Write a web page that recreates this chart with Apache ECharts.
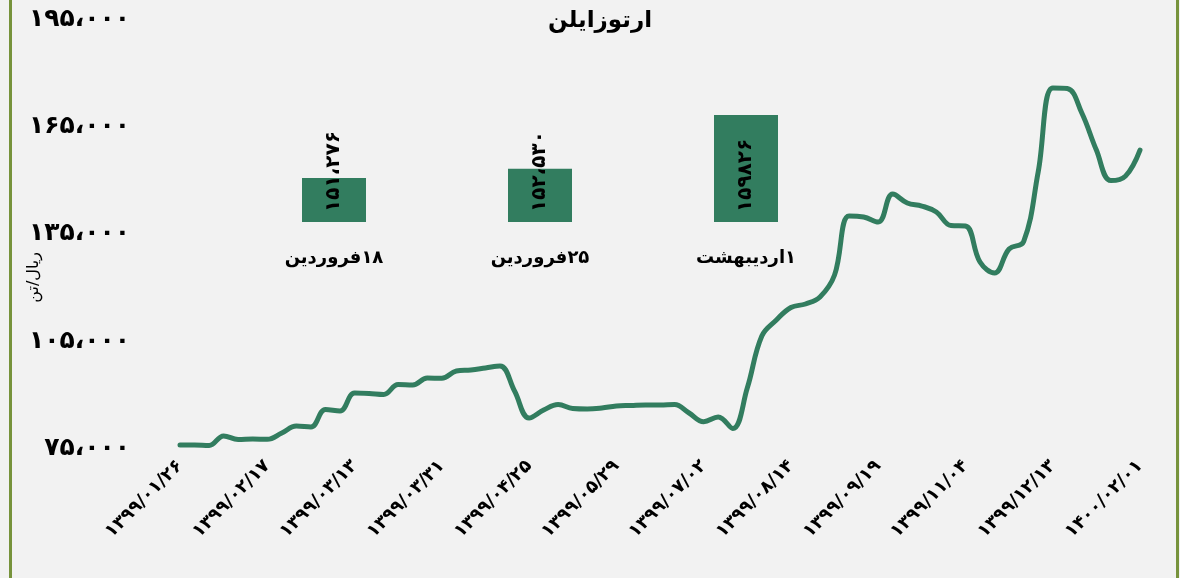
<!DOCTYPE html>
<html>
<head>
<meta charset="utf-8">
<title>ارتوزایلن</title>
<script src="https://cdn.jsdelivr.net/npm/echarts@6/dist/echarts.min.js"></script>
<style>
	html, body { margin: 0; padding: 0; background: #f2f2f2; }
	#chartDiv { width: 1180px; height: 578px; direction: rtl; }
	.edge { position: absolute; top: 0; width: 3px; height: 578px; background: #77933c; }
</style>
</head>
<body>
<div id="chartDiv"></div>
<div class="edge" style="left:9px"></div>
<div class="edge" style="left:1176px"></div>
<script>
var titleText = 'ارتوزایلن';
var unitText = 'ریال/تن';

// every 6th point carries a date label
var tickLabels = ['۱۳۹۹/۰۱/۲۶', '۱۳۹۹/۰۲/۱۷', '۱۳۹۹/۰۳/۱۳', '۱۳۹۹/۰۳/۳۱', '۱۳۹۹/۰۴/۲۵', '۱۳۹۹/۰۵/۲۹',
	'۱۳۹۹/۰۷/۰۲', '۱۳۹۹/۰۸/۱۴', '۱۳۹۹/۰۹/۱۹', '۱۳۹۹/۱۱/۰۴', '۱۳۹۹/۱۲/۱۳', '۱۴۰۰/۰۲/۰۱'];
var labelStep = 6;

var prices = [
	77320, 77320, 77180, 79840, 78860, 79000, 78910, 80680, 82630, 82350,
	87250, 86830, 91860, 91720, 91440, 94240, 94100, 96060, 95980, 98020,
	98300, 98860, 99420, 92420, 84870, 87110, 88650, 87530, 87390, 87670,
	88230, 88370, 88510, 88510, 88650, 86270, 83840, 85150, 81930, 93260,
	107810, 112280, 115780, 116760, 118720, 124870, 141370, 141090, 139690, 147520,
	145010, 144170, 142490, 138710, 138570, 128500, 125430, 132140, 134240, 153680,
	177170, 177030, 170180, 159830, 151276, 152530, 159826
];

var yMin = 75000, yMax = 195000, yStep = 30000;

// small inset: last three weeks
var insetCats = ['۱۸فروردین', '۲۵فروردین', '۱اردیبهشت'];
var insetValues = [151276, 152530, 159826];
var insetLabels = ['۱۵۱،۲۷۶', '۱۵۲،۵۳۰', '۱۵۹۸۲۶'];

var green = '#327d5f';
var font = 'DejaVu Sans';

function toFa(n) {
	var digits = '۰۱۲۳۴۵۶۷۸۹';
	return String(n).replace(/\B(?=(\d{3})+(?!\d))/g, '،').replace(/\d/g, function (d) { return digits[d]; });
}

function buildCategories() {
	var res = [];
	for (var i = 0; i < prices.length; i++) {
		res.push(i % labelStep === 0 ? tickLabels[i / labelStep] : '');
	}
	return res;
}

var chart = echarts.init(document.getElementById('chartDiv'));

var option = {
	backgroundColor: '#f2f2f2',
	animation: false,
	textStyle: { fontFamily: font },
	title: {
		text: titleText,
		left: 543,
		top: 5,
		textStyle: { color: '#000', fontSize: 23, fontWeight: 'bold', fontFamily: font }
	},
	graphic: [{
		type: 'text',
		left: 26,
		top: 252,
		rotation: Math.PI / 2,
		style: { text: unitText, fill: '#000', font: '16px "DejaVu Sans"' }
	}],
	grid: [
		{ left: 180, right: 40, top: 24.3, bottom: 124.7 },
		{ left: 231, width: 618, top: 113.7, height: 108.3 }
	],
	xAxis: [
		{
			type: 'category',
			gridIndex: 0,
			boundaryGap: false,
			data: buildCategories(),
			axisLine: { show: false },
			axisTick: { show: false },
			splitLine: { show: false },
			axisLabel: {
				interval: 0,
				rotate: 45,
				margin: 10,
				color: '#000',
				fontSize: 18,
				fontWeight: 'bold',
				fontFamily: font
			}
		},
		{
			type: 'category',
			gridIndex: 1,
			data: insetCats,
			axisLine: { show: false },
			axisTick: { show: false },
			axisLabel: {
				margin: 27,
				color: '#000',
				fontSize: 18,
				fontWeight: 'bold',
				fontFamily: font
			}
		}
	],
	yAxis: [
		{
			type: 'value',
			gridIndex: 0,
			min: yMin,
			max: yMax,
			interval: yStep,
			axisLine: { show: false },
			axisTick: { show: false },
			splitLine: { show: false },
			axisLabel: {
				margin: 50,
				color: '#000',
				fontSize: 25,
				fontWeight: 'bold',
				fontFamily: font,
				verticalAlign: 'bottom',
				lineHeight: 10,
				formatter: function (v) { return toFa(v); }
			}
		},
		{
			type: 'value',
			gridIndex: 1,
			min: 145300,
			max: 160000,
			show: false,
			splitLine: { show: false }
		}
	],
	series: [
		{
			name: 'price',
			type: 'line',
			xAxisIndex: 0,
			yAxisIndex: 0,
			data: prices,
			smooth: 0.4,
			symbol: 'none',
			lineStyle: { color: green, width: 5, cap: 'round', join: 'round' }
		},
		{
			name: 'inset',
			type: 'bar',
			xAxisIndex: 1,
			yAxisIndex: 1,
			data: insetValues,
			barWidth: 64,
			itemStyle: { color: green },
			label: {
				show: true,
				position: 'insideBottom',
				rotate: 90,
				align: 'left',
				verticalAlign: 'middle',
				distance: 10,
				color: '#000',
				fontSize: 20,
				fontWeight: 'bold',
				fontFamily: font,
				formatter: function (p) { return insetLabels[p.dataIndex]; }
			}
		}
	]
};

if (option && typeof option === "object") {
	chart.setOption(option, true);
}
</script>
</body>
</html>
